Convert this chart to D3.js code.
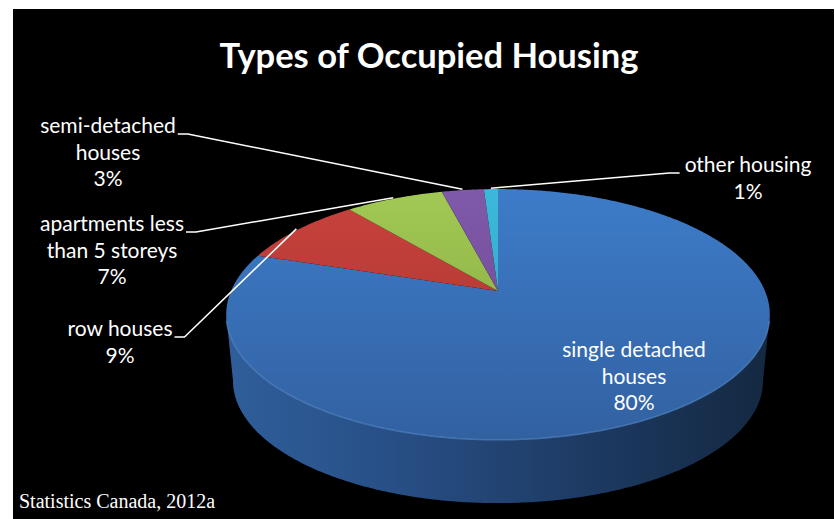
<!DOCTYPE html>
<html>
<head>
<meta charset="utf-8">
<script src="https://cdn.jsdelivr.net/npm/d3@7"></script>
<style>
  body { margin: 0; background: #fff; }
  text { font-family: Lato, "Open Sans", sans-serif; fill: #fff; }
</style>
</head>
<body>
<svg id="chart"></svg>
<script>
// housing types, Statistics Canada 2012a
const categories = ["single detached houses", "row houses", "apartments less than 5 storeys", "semi-detached houses", "other housing"];
const shares = [80, 9, 7, 3, 1];
const labelLines = [
    ["single detached", "houses"],
    ["row houses"],
    ["apartments less", "than 5 storeys"],
    ["semi-detached", "houses"],
    ["other housing"]
];

// top face colours (light, dark) per slice
const colors = [
    ["#3d7cc9", "#3261a1"],
    ["#c9423d", "#a5332f"],
    ["#a2c955", "#7fa23b"],
    ["#8059aa", "#69478f"],
    ["#3cb9da", "#2a9fc0"]
];

// where each label block sits (centre x, first baseline y, leader side)
const labelPos = [
    { x: 634, y: 357, side: "none" },
    { x: 120, y: 336, side: "left" },
    { x: 112, y: 231, side: "left" },
    { x: 108, y: 133, side: "left" },
    { x: 748, y: 172, side: "right" }
];

const W = 835, H = 519;
const svg = d3.select("#chart").attr("width", W).attr("height", H);

svg.append("rect").attr("width", W).attr("height", H).attr("fill", "#fff");
svg.append("rect").attr("x", 13).attr("y", 9).attr("width", 821).attr("height", H - 9).attr("fill", "#000");

// 3d pie projection (simple perspective tilt)
const cx = 498, cy = 291, k = 267, m = 121, p = 0.187;
const sB = 0.975, hb = 67;

function proj(a, r, level) {
    let x = r * Math.sin(a), d = -r * Math.cos(a);
    let w = 1 - p * d;
    let s = level ? sB : 1;
    return [cx + s * k * x / w, cy + (level ? hb : 0) + s * m * d / w];
}

function arcPoints(a0, a1, r, level) {
    let n = Math.max(2, Math.ceil(Math.abs(a1 - a0) / 0.01));
    let pts = [];
    for (let i = 0; i <= n; i++) pts.push(proj(a0 + (a1 - a0) * i / n, r, level));
    return pts;
}

const defs = svg.append("defs");

colors.forEach((c, i) => {
    let g = defs.append("linearGradient").attr("id", "top" + i)
        .attr("gradientUnits", "userSpaceOnUse")
        .attr("x1", 0).attr("y1", 189).attr("x2", 0).attr("y2", 440);
    g.append("stop").attr("offset", 0).attr("stop-color", c[0]);
    g.append("stop").attr("offset", 1).attr("stop-color", c[1]);
});

let sideGrad = defs.append("linearGradient").attr("id", "side")
    .attr("gradientUnits", "userSpaceOnUse")
    .attr("x1", 228).attr("y1", 0).attr("x2", 771).attr("y2", 0);
sideGrad.append("stop").attr("offset", 0).attr("stop-color", "#2f5e9a");
sideGrad.append("stop").attr("offset", 0.3).attr("stop-color", "#284f86");
sideGrad.append("stop").attr("offset", 0.7).attr("stop-color", "#1c385f");
sideGrad.append("stop").attr("offset", 1).attr("stop-color", "#142840");

const pie = d3.pie().sort(null).startAngle(0).endAngle(2 * Math.PI);
const arcs = pie(shares);

const line = d3.line();

// side wall (front half belongs to the big slice)
let a1 = Math.acos(-p), a2 = 2 * Math.PI - Math.acos(-p);
let sidePts = arcPoints(a1, a2, 1, 0).concat(arcPoints(a2, a1, 1, 1));
svg.append("path")
    .attr("d", line(sidePts) + "Z")
    .attr("fill", "url(#side)");

// top face slices
svg.selectAll("path.slice")
    .data(arcs)
    .enter().append("path")
    .attr("class", "slice")
    .attr("d", d => line([[cx, cy]].concat(arcPoints(d.startAngle, d.endAngle, 1, 0))) + "Z")
    .attr("fill", (d, i) => "url(#top" + i + ")");

// light rim on the front edge
svg.append("path")
    .attr("d", line(arcPoints(a1 + 0.05, a2 - 0.05, 1, 0)))
    .attr("fill", "none")
    .attr("stroke", "#5a90d2")
    .attr("stroke-width", 1.5)
    .attr("stroke-opacity", 0.6);

// labels
arcs.forEach((d, i) => {
    let lp = labelPos[i];
    let lines = labelLines[i].concat([shares[i] + "%"]);
    let t = svg.append("text")
        .attr("text-anchor", "middle")
        .attr("font-size", 21);
    lines.forEach((s, j) => {
        t.append("tspan").attr("x", lp.x).attr("y", lp.y + j * 26.5).text(s);
    });
    if (lp.side === "none") return;

    let w0 = t.select("tspan").node().getComputedTextLength();
    let mid = (d.startAngle + d.endAngle) / 2;
    let rim = proj(mid, 1.01, 0);
    let ly = lp.y + 1;
    let pts;
    if (lp.side === "left") {
        let xr = lp.x + w0 / 2;
        pts = [[xr + 2, ly], [xr + 12, ly], rim];
    } else {
        let xl = lp.x - w0 / 2;
        pts = [[xl - 5, ly], [xl - 15, ly], rim];
    }
    svg.append("path")
        .attr("d", line(pts))
        .attr("fill", "none")
        .attr("stroke", "#fff")
        .attr("stroke-width", 1.5);
});

svg.append("text")
    .attr("x", 429).attr("y", 68)
    .attr("text-anchor", "middle")
    .attr("font-size", 34.5)
    .attr("font-weight", "bold")
    .text("Types of Occupied Housing");

svg.append("text")
    .attr("x", 19).attr("y", 508)
    .style("font-family", "'Liberation Serif', serif")
    .attr("font-size", 20)
    .text("Statistics Canada, 2012a");
</script>
</body>
</html>
